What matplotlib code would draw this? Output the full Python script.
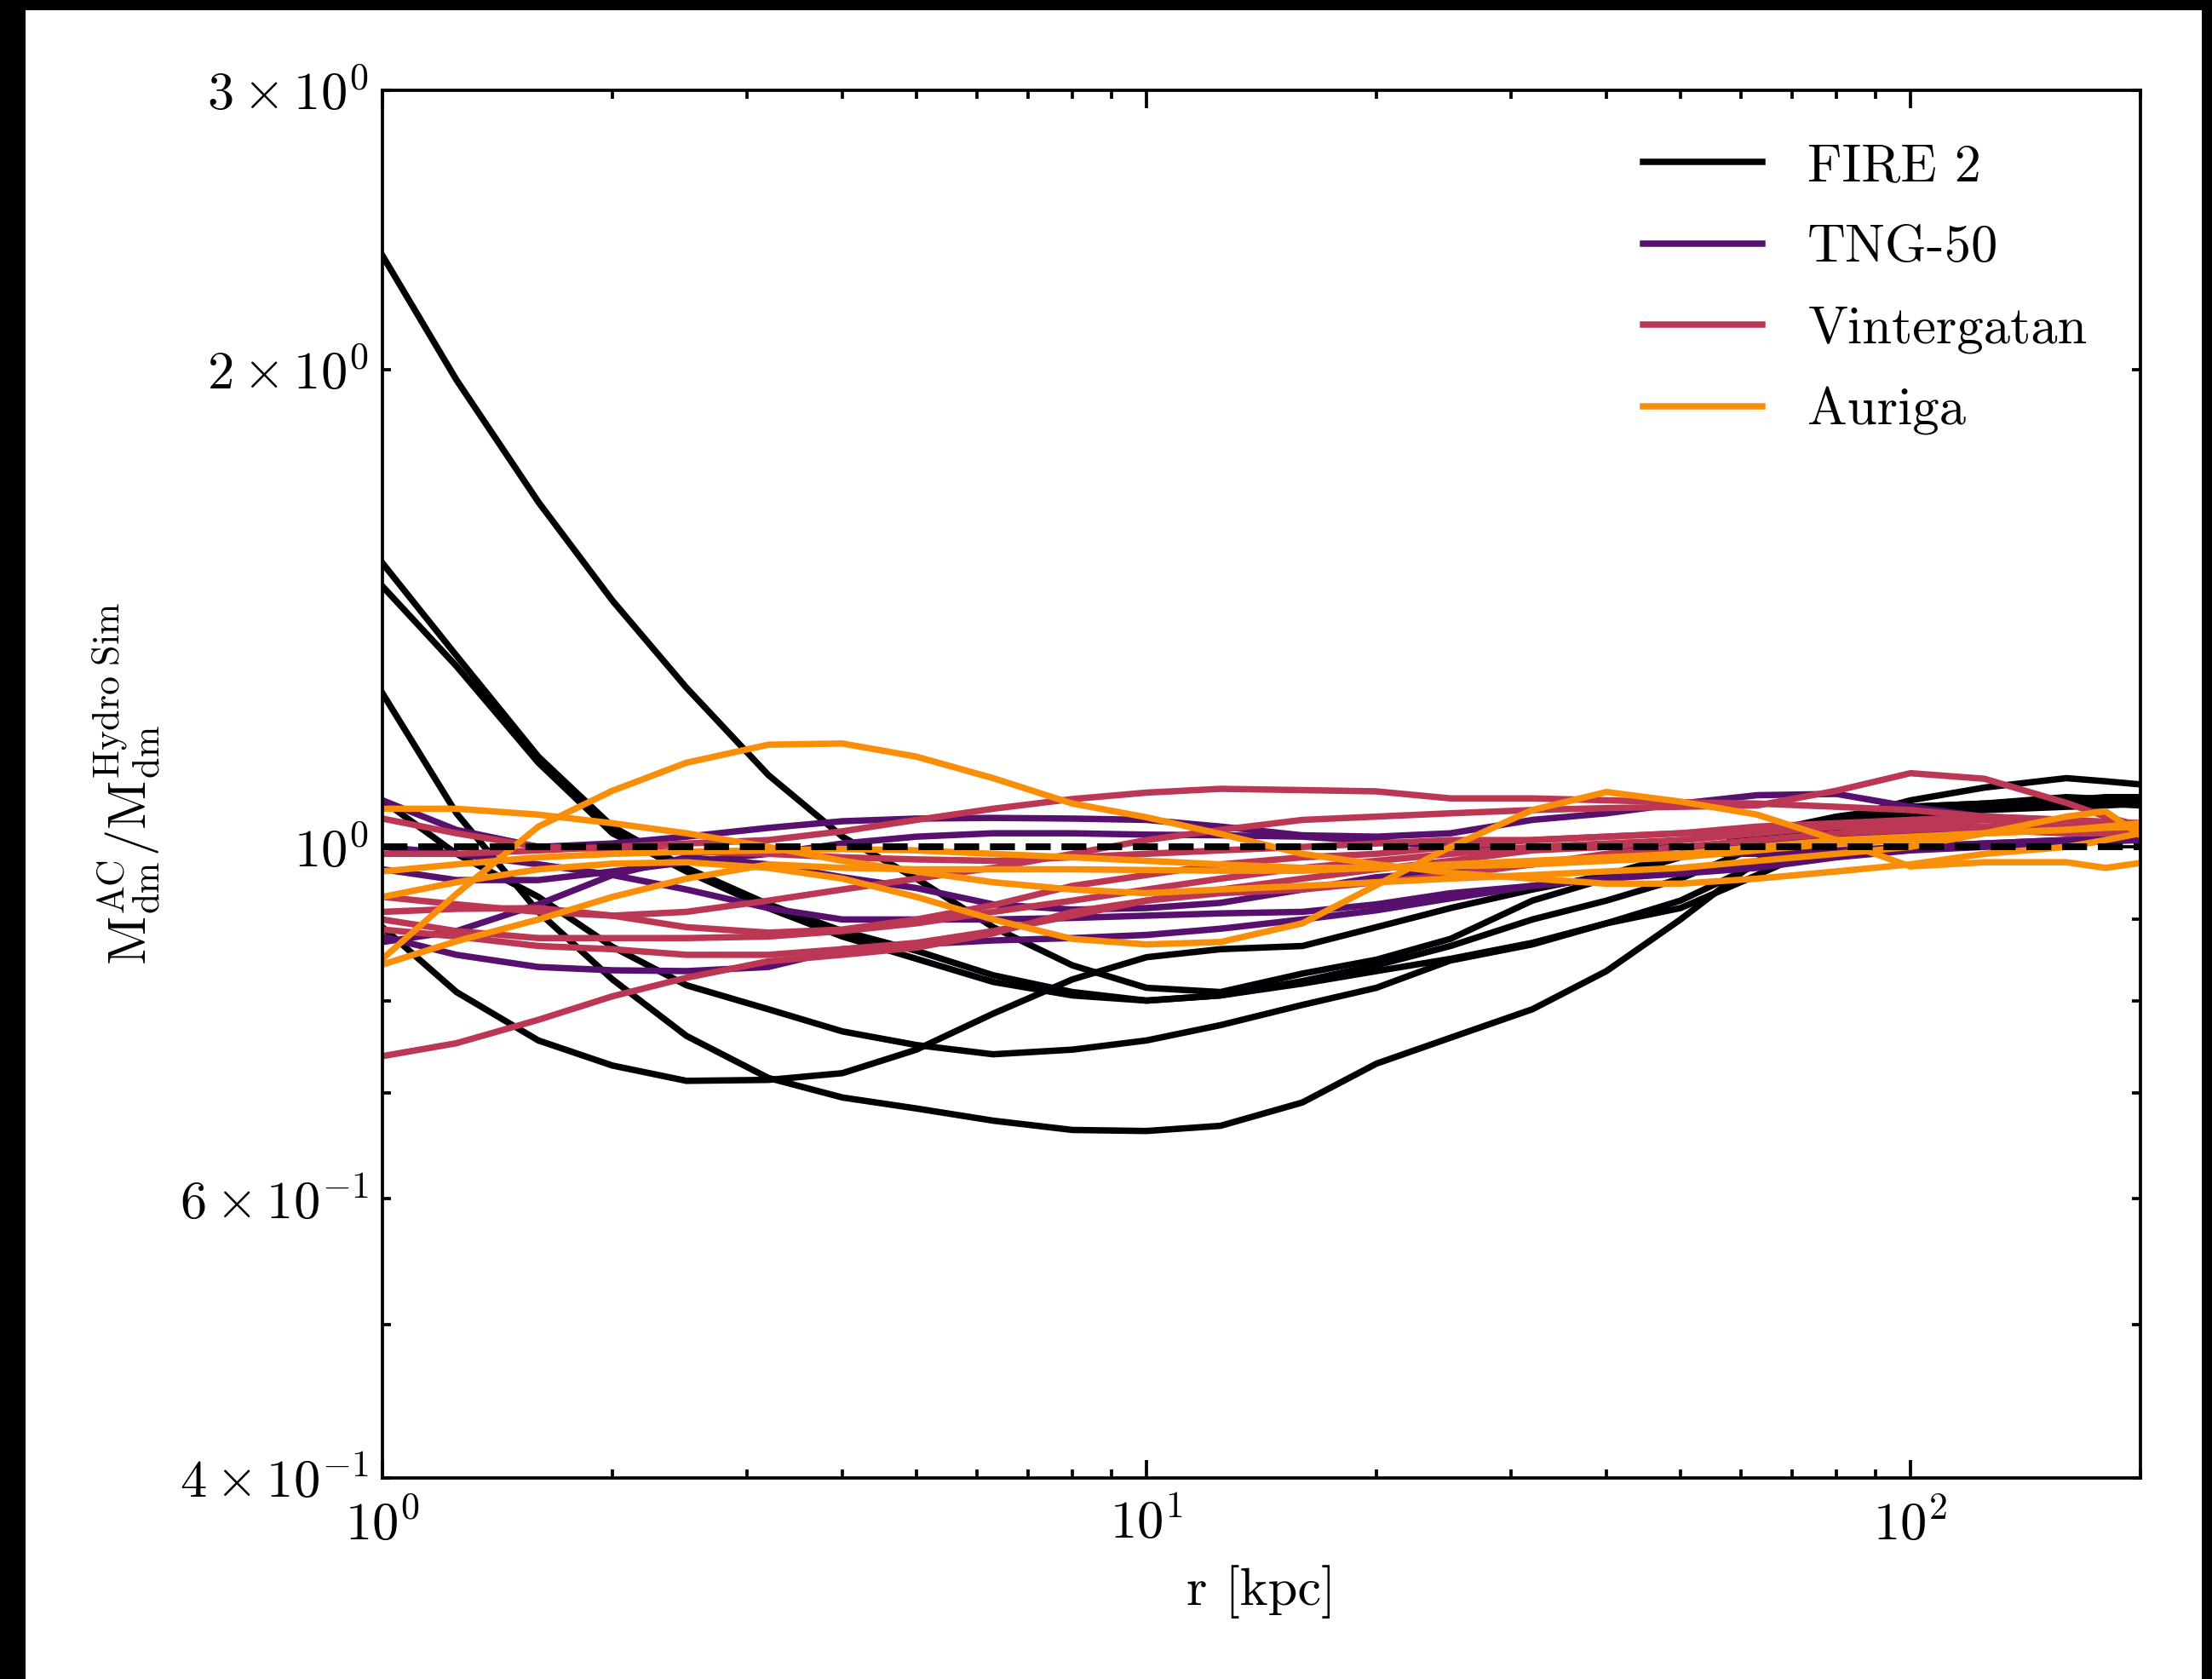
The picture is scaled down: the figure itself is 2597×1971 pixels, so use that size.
import numpy as np
import matplotlib
matplotlib.use("Agg")
import matplotlib.pyplot as plt
from matplotlib.patches import Rectangle
from matplotlib.ticker import FuncFormatter

plt.rcParams.update({
    "font.family": "serif",
    "font.serif": ["cmr10"],
    "mathtext.fontset": "cm",
    "axes.formatter.use_mathtext": True,
    "axes.unicode_minus": False,
})

nan = np.nan
r_kpc = [1, 1.25, 1.6, 2, 2.5, 3.2, 4, 5, 6.3, 8, 10, 12.5, 16, 20, 25, 32, 40,
         50, 63, 80, 100, 125, 160, 180, 200]

fire2 = [
    [2.36, 1.97, 1.65, 1.43, 1.26, 1.11, 1.015, 0.955, 0.89, 0.842, 0.815, 0.81, 0.832, 0.849, 0.875, 0.925, 0.955, 0.985, 1.02, 1.045, 1.06, 1.065, 1.075, 1.072, 1.07],
    [1.51, 1.32, 1.14, 1.03, 0.97, 0.92, 0.885, 0.86, 0.83, 0.81, 0.80, 0.806, 0.823, 0.842, 0.866, 0.9, 0.925, 0.955, 1.0, 1.04, 1.06, 1.065, 1.07, 1.075, 1.075],
    [1.46, 1.30, 1.13, 1.02, 0.965, 0.915, 0.878, 0.85, 0.822, 0.806, 0.80, 0.806, 0.82, 0.835, 0.85, 0.87, 0.895, 0.915, 0.96, 1.01, 1.045, 1.06, 1.068, 1.065, 1.062],
    [1.25, 1.05, 0.91, 0.825, 0.76, 0.715, 0.695, 0.684, 0.672, 0.663, 0.662, 0.667, 0.69, 0.73, 0.758, 0.79, 0.835, 0.9, 0.98, 1.025, 1.045, 1.055, 1.06, 1.062, 1.065],
    [0.89, 0.81, 0.755, 0.728, 0.712, 0.713, 0.72, 0.745, 0.785, 0.825, 0.852, 0.862, 0.866, 0.89, 0.915, 0.94, 0.96, 0.99, 1.01, 1.04, 1.07, 1.09, 1.105, 1.1, 1.095],
    [1.07, 0.99, 0.93, 0.865, 0.818, 0.79, 0.765, 0.75, 0.74, 0.745, 0.755, 0.772, 0.795, 0.815, 0.848, 0.868, 0.895, 0.925, 0.975, 1.03, 1.055, 1.06, 1.065, 1.068, 1.07],
]

tng50 = [
    [1.07, 1.025, 1.0, 1.005, 1.015, 1.028, 1.038, 1.042, 1.043, 1.042, 1.04, 1.03, 1.017, 1.015, 1.02, 1.04, 1.05, 1.065, 1.078, 1.08, 1.06, 1.045, nan, nan, nan],
    [0.968, 0.953, 0.953, 0.965, 0.978, 0.99, 1.005, 1.015, 1.02, 1.02, 1.018, 1.017, 1.015, 1.008, 1.0, 0.998, 1.0, 1.0, 1.005, 1.01, 1.02, 1.025, 1.03, 1.028, 1.025],
    [0.878, 0.855, 0.84, 0.836, 0.835, 0.84, 0.862, 0.868, 0.873, 0.876, 0.88, 0.888, 0.9, 0.912, 0.928, 0.945, 0.955, 0.962, 0.97, 0.985, 0.995, 1.0, 1.005, 1.008, 1.01],
    [0.871, 0.885, 0.92, 0.96, 0.985, 0.975, 0.957, 0.942, 0.92, 0.913, 0.915, 0.922, 0.94, 0.957, 0.965, 0.975, 0.985, 0.99, 0.99, 0.995, 1.0, 1.005, 1.01, 1.012, 1.015],
    [1.0, 0.99, 0.975, 0.96, 0.94, 0.915, 0.9, 0.9, 0.9, 0.902, 0.905, 0.908, 0.91, 0.92, 0.935, 0.945, 0.955, 0.965, 0.975, 0.99, 1.0, 1.005, 1.01, 1.01, 1.01],
]

vintergatan = [
    [0.738, 0.752, 0.778, 0.805, 0.827, 0.847, 0.855, 0.864, 0.882, 0.91, 0.925, 0.935, 0.94, 0.95, 0.96, 0.975, 0.99, 1.0, 1.01, 1.02, 1.025, 1.03, 1.03, 1.03, 1.03],
    [0.91, 0.914, 0.915, 0.905, 0.89, 0.883, 0.887, 0.9, 0.919, 0.945, 0.96, 0.975, 0.985, 0.99, 1.0, 1.01, 1.015, 1.02, 1.025, 1.03, 1.035, 1.03, 1.025, 1.025, 1.025],
    [0.9, 0.885, 0.876, 0.876, 0.876, 0.878, 0.885, 0.895, 0.91, 0.925, 0.94, 0.955, 0.97, 0.98, 0.99, 1.0, 1.005, 1.01, 1.02, 1.03, 1.03, 1.025, 1.02, 1.02, 1.02],
    [0.887, 0.878, 0.866, 0.862, 0.855, 0.855, 0.862, 0.87, 0.885, 0.905, 0.925, 0.94, 0.955, 0.968, 0.98, 0.995, 1.0, 1.01, 1.02, 1.03, 1.04, 1.04, 1.03, 1.028, 1.025],
    [1.042, 1.02, 1.0, 0.997, 0.993, 0.99, 0.985, 0.982, 0.98, 0.985, 0.99, 0.995, 1.0, 1.005, 1.01, 1.01, 1.015, 1.02, 1.03, 1.035, 1.04, 1.045, 1.04, 1.037, 1.035],
    [0.99, 0.99, 0.995, 1.0, 1.005, 1.01, 1.023, 1.04, 1.057, 1.072, 1.082, 1.088, 1.086, 1.084, 1.073, 1.073, 1.07, 1.067, 1.065, 1.06, 1.055, 1.045, 1.04, 1.037, 1.035],
    [0.93, 0.92, 0.91, 0.905, 0.91, 0.925, 0.94, 0.955, 0.97, 0.99, 1.01, 1.025, 1.04, 1.045, 1.05, 1.055, 1.058, 1.06, 1.062, 1.085, 1.113, 1.104, 1.066, 1.045, 1.031],
]

auriga = [
    [0.85, 0.934, 1.03, 1.085, 1.13, 1.16, 1.162, 1.14, 1.105, 1.065, 1.044, 1.019, 0.99, 0.975, 0.963, 0.955, 0.948, 0.948, 0.955, 0.965, 0.975, 0.99, 1.0, 1.01, 1.02],
    [1.057, 1.057, 1.048, 1.035, 1.02, 1.0, 0.98, 0.965, 0.95, 0.94, 0.935, 0.94, 0.945, 0.95, 0.955, 0.96, 0.965, 0.97, 0.98, 0.99, 1.0, 1.02, 1.045, 1.053, 1.017],
    [0.93, 0.95, 0.968, 0.976, 0.978, 0.97, 0.955, 0.93, 0.9, 0.875, 0.868, 0.871, 0.895, 0.946, 1.0, 1.055, 1.083, 1.068, 1.048, 1.01, 0.972, 0.978, 0.978, 0.97, 0.977],
    [0.843, 0.872, 0.9, 0.93, 0.955, 0.975, 0.97, 0.968, 0.968, 0.968, 0.967, 0.966, 0.966, 0.97, 0.975, 0.98, 0.985, 0.99, 1.0, 1.01, 1.015, 1.02, 1.025, 1.028, 1.03],
    [0.965, 0.975, 0.985, 0.99, 0.993, 0.995, 0.997, 0.995, 0.99, 0.985, 0.98, 0.975, 0.97, 0.97, 0.972, 0.975, 0.98, 0.985, 0.995, 1.005, 1.01, 1.02, 1.025, 1.03, 1.035],
]

labels = ["FIRE 2", "TNG-50", "Vintergatan", "Auriga"]
groups = [fire2, tng50, vintergatan, auriga]
cmap = plt.get_cmap("inferno")
colors = [cmap(v) for v in [0.0, 0.25, 0.5, 0.75]]

FS = 15
W, H, DPI = 2597, 1971, 300
fig = plt.figure(figsize=(W / DPI, H / DPI), dpi=DPI, facecolor="white")
# black frame strips of the original screenshot
for (x0, y0, w, h) in [(0, 0, 30 / W, 1), (0, 1 - 12 / H, 1, 12 / H), (2585 / W, 0, 12 / W, 1)]:
    fig.patches.append(Rectangle((x0, y0), w, h, transform=fig.transFigure,
                                 facecolor="black", edgecolor="none", zorder=-1))

ax = fig.add_axes([449 / W, 1 - 1735 / H, (2513 - 449) / W, (1735 - 106) / H])

for grp, col, lab in zip(groups, colors, labels):
    for i, ys in enumerate(grp):
        ax.plot(r_kpc, ys, color=col, lw=1.8, label=lab if i == 0 else None)

ax.plot([1, 200], [1, 1], "k--", lw=1.9, zorder=5)

ax.set_xscale("log")
ax.set_yscale("log")
ax.set_xlim(1, 200)
ax.set_ylim(0.4, 3)


def yfmt(v, pos):
    e = int(np.floor(np.log10(v) + 1e-9))
    c = int(round(v / 10.0 ** e))
    if c == 1:
        return r"$10^{%d}$" % e
    if c in (2, 3, 4, 6):
        return r"$%d \times 10^{%d}$" % (c, e)
    return ""


ax.yaxis.set_major_formatter(FuncFormatter(yfmt))
ax.yaxis.set_minor_formatter(FuncFormatter(yfmt))

ax.set_xlabel("r [kpc]", fontsize=FS)
ax.set_ylabel(r"$\mathrm{M_{dm}^{AC}/M_{dm}^{Hydro\ Sim}}$", fontsize=FS)
ax.xaxis.set_label_coords(0.5, -0.063)
ax.yaxis.set_label_coords(-0.125, 0.5)

ax.tick_params(which="both", direction="in", top=True, right=True, labelsize=FS, width=0.9)
ax.tick_params(axis="x", which="both", pad=6)
ax.tick_params(axis="y", which="both", pad=4)
ax.tick_params(which="major", length=5)
ax.tick_params(which="minor", length=2.4)
for s in ax.spines.values():
    s.set_linewidth(0.9)

leg = ax.legend(loc="upper right", frameon=False, fontsize=FS, handlelength=2.25,
                handletextpad=0.85, labelspacing=0.63, borderaxespad=0.6)

fig.savefig("out.png", dpi=DPI, facecolor=fig.get_facecolor())
